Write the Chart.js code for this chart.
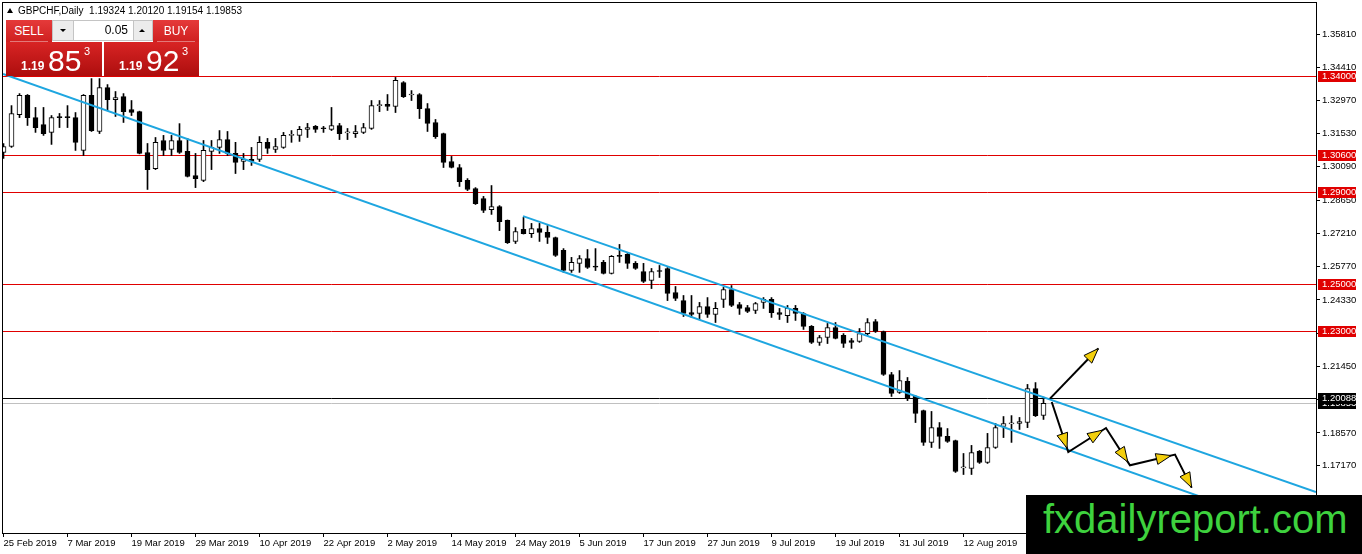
<!DOCTYPE html>
<html>
<head>
<meta charset="utf-8">
<script src="https://cdn.jsdelivr.net/npm/chart.js@4.4.1/dist/chart.umd.min.js"></script>
<style>
html, body { margin: 0; padding: 0; background: #fff; overflow: hidden; }
#wrap { position: relative; width: 1362px; height: 554px; font-family: "Liberation Sans", Arial, sans-serif; }
#myChart { position: absolute; left: 0; top: 0; }
.ov { position: absolute; }
#title { left: 6px; top: 5px; font-size: 10px; color: #000; white-space: nowrap; }
#title .tri { display: inline-block; width: 0; height: 0; border-left: 3px solid transparent; border-right: 3px solid transparent; border-bottom: 5px solid #000; margin: 0 5px 1px 1px; }
.btn { height: 22px; line-height: 22px; width: 46px; text-align: center; color: #fff; font-size: 12px; background: linear-gradient(#e53a3a, #cf2020); }
#sell { left: 6px; top: 20px; }
#buy { left: 153px; top: 20px; }
.sep { height: 1px; background: rgba(255,255,255,0.4); top: 41px; width: 38px; }
#lot { left: 52px; top: 20px; width: 99px; height: 19px; background: #ececec; border: 1px solid #c4c4c4; }
#lot .dn, #lot .up { position: absolute; top: 0; width: 20px; height: 19px; }
#lot .dn { left: 0; } #lot .up { right: 0; }
#lot .dn i, #lot .up i { position: absolute; left: 7px; top: 8px; width: 0; height: 0; border-left: 3px solid transparent; border-right: 3px solid transparent; }
#lot .dn i { border-top: 3px solid #000; }
#lot .up i { border-bottom: 3px solid #000; }
#lot .val { position: absolute; left: 20px; top: 0; width: 54px; height: 19px; line-height: 19px; background: #fff; border-left: 1px solid #c4c4c4; border-right: 1px solid #c4c4c4; text-align: right; padding-right: 5px; font-size: 12px; color: #000; }
.price { top: 42px; height: 34px; background: linear-gradient(#d82424, #ad0e0e); color: #fff; }
#sellp { left: 6px; width: 96px; }
#buyp { left: 104px; width: 95px; }
.price span { position: absolute; line-height: 1; white-space: nowrap; }
.price .s { font-size: 12px; font-weight: bold; top: 18px; left: 15px; }
.price .b { font-size: 30px; top: 4px; left: 42px; }
.price .p { font-size: 11px; top: 4px; left: 78px; }
#wm { left: 1026px; top: 495px; width: 336px; height: 59px; background: #000; }
#wm span { position: absolute; left: 17px; top: 4px; font-size: 40px; line-height: 1; color: #3ed23e; white-space: nowrap; }
</style>
</head>
<body>
<div id="wrap">
<canvas id="myChart" width="1362" height="554"></canvas>
<div class="ov" id="title"><span class="tri"></span>GBPCHF,Daily&nbsp; 1.19324 1.20120 1.19154 1.19853</div>
<div class="ov btn" id="sell">SELL</div>
<div class="ov sep" style="left:10px"></div>
<div class="ov" id="lot"><div class="dn"><i></i></div><div class="val">0.05</div><div class="up"><i></i></div></div>
<div class="ov btn" id="buy">BUY</div>
<div class="ov sep" style="left:157px"></div>
<div class="ov price" id="sellp"><span class="s">1.19</span><span class="b">85</span><span class="p">3</span></div>
<div class="ov price" id="buyp"><span class="s">1.19</span><span class="b">92</span><span class="p">3</span></div>
<div class="ov" id="wm"><span>fxdailyreport.com</span></div>
</div>
<script>
// GBPCHF daily candles, 25 Feb 2019 onwards (one per weekday)
var opens = [1.3071,1.3097,1.3235,1.3318,1.3222,1.3192,1.3158,1.3227,1.3227,1.3222,
  1.3080,1.3318,1.3162,1.3352,1.3300,1.3313,1.3257,1.3248,1.3071,1.3001,
  1.3123,1.3084,1.3123,1.3076,1.2971,1.2950,1.3076,1.3093,1.3127,1.3067,
  1.3032,1.3041,1.3041,1.3115,1.3084,1.3093,1.3145,1.3145,1.3171,1.3184,
  1.3176,1.3171,1.3188,1.3156,1.3153,1.3158,1.3175,1.3274,1.3279,1.3270,
  1.3374,1.3320,1.3322,1.3261,1.3201,1.3153,1.3032,1.3006,1.2950,1.2915,
  1.2872,1.2824,1.2837,1.2777,1.2686,1.2738,1.2720,1.2742,1.2725,1.2703,
  1.2647,1.2560,1.2591,1.2612,1.2578,1.2595,1.2547,1.2623,1.2630,1.2591,
  1.2556,1.2517,1.2560,1.2569,1.2465,1.2430,1.2378,1.2374,1.2404,1.2370,
  1.2435,1.2478,1.2413,1.2400,1.2387,1.2422,1.2435,1.2378,1.2365,1.2396,
  1.2374,1.2318,1.2249,1.2270,1.2313,1.2279,1.2257,1.2253,1.2287,1.2339,
  1.2296,1.2110,1.2032,1.2080,1.2015,1.1954,1.1816,1.1880,1.1842,1.1824,
  1.1706,1.1703,1.1777,1.1729,1.1794,1.1885,1.1896,1.1898,1.1902,1.2049,
  1.19324];
var highs = [1.3110,1.3274,1.3326,1.3322,1.3266,1.3266,1.3231,1.3240,1.3274,1.3244,
  1.3322,1.3391,1.3391,1.3365,1.3335,1.3326,1.3296,1.3250,1.3110,1.3136,
  1.3145,1.3145,1.3196,1.3132,1.3067,1.3123,1.3123,1.3166,1.3162,1.3115,
  1.3067,1.3093,1.3140,1.3132,1.3132,1.3158,1.3166,1.3184,1.3197,1.3188,
  1.3184,1.3266,1.3197,1.3175,1.3188,1.3197,1.3296,1.3296,1.3322,1.3396,
  1.3378,1.3339,1.3326,1.3283,1.3214,1.3155,1.3054,1.3019,1.2958,1.2919,
  1.2881,1.2928,1.2841,1.2779,1.2746,1.2790,1.2764,1.2764,1.2755,1.2705,
  1.2655,1.2617,1.2625,1.2651,1.2655,1.2604,1.2625,1.2673,1.2634,1.2599,
  1.2591,1.2569,1.2582,1.2573,1.2491,1.2452,1.2452,1.2422,1.2443,1.2422,
  1.2487,1.2495,1.2422,1.2409,1.2422,1.2443,1.2443,1.2396,1.2409,1.2409,
  1.2378,1.2322,1.2279,1.2331,1.2335,1.2287,1.2266,1.2309,1.2352,1.2348,
  1.2298,1.2119,1.2127,1.2097,1.2019,1.1956,1.1950,1.1902,1.1876,1.1826,
  1.1768,1.1803,1.1781,1.1855,1.1898,1.1928,1.1932,1.1924,1.2067,1.2075,
  1.20120];
var lows = [1.3045,1.3093,1.3222,1.3188,1.3158,1.3145,1.3106,1.3179,1.3179,1.3080,
  1.3058,1.3162,1.3153,1.3253,1.3227,1.3201,1.3231,1.3065,1.2911,1.2997,
  1.3058,1.3058,1.3067,1.2965,1.2919,1.2945,1.2997,1.3067,1.3058,1.2980,
  1.2997,1.3015,1.3032,1.3067,1.3071,1.3089,1.3115,1.3119,1.3136,1.3158,
  1.3158,1.3166,1.3127,1.3127,1.3136,1.3153,1.3171,1.3248,1.3253,1.3244,
  1.3309,1.3296,1.3218,1.3162,1.3132,1.3006,1.3004,1.2924,1.2906,1.2846,
  1.2811,1.2803,1.2733,1.2677,1.2677,1.2718,1.2703,1.2686,1.2677,1.2621,
  1.2552,1.2552,1.2552,1.2569,1.2560,1.2545,1.2545,1.2595,1.2569,1.2565,
  1.2508,1.2482,1.2530,1.2430,1.2430,1.2361,1.2357,1.2348,1.2357,1.2335,
  1.2400,1.2404,1.2370,1.2378,1.2374,1.2396,1.2357,1.2348,1.2335,1.2344,
  1.2305,1.2244,1.2236,1.2244,1.2264,1.2227,1.2223,1.2249,1.2279,1.2292,
  1.2106,1.2015,1.2028,1.1997,1.1902,1.1803,1.1794,1.1790,1.1816,1.1686,
  1.1677,1.1677,1.1725,1.1725,1.1790,1.1837,1.1816,1.1872,1.1880,1.1928,
  1.19154];
var closes = [1.3097,1.3240,1.3318,1.3222,1.3179,1.3153,1.3222,1.3222,1.3222,1.3115,
  1.3318,1.3166,1.3352,1.3300,1.3309,1.3248,1.3244,1.3067,1.2997,1.3115,
  1.3080,1.3123,1.3071,1.2967,1.2958,1.3080,1.3093,1.3127,1.3067,1.3028,
  1.3041,1.3032,1.3115,1.3089,1.3097,1.3145,1.3147,1.3171,1.3179,1.3171,
  1.3174,1.3188,1.3153,1.3158,1.3162,1.3179,1.3274,1.3276,1.3270,1.3383,
  1.3313,1.3322,1.3261,1.3197,1.3140,1.3028,1.3006,1.2945,1.2911,1.2850,
  1.2820,1.2837,1.2772,1.2681,1.2729,1.2720,1.2742,1.2725,1.2703,1.2625,
  1.2560,1.2595,1.2612,1.2573,1.2575,1.2547,1.2621,1.2621,1.2591,1.2569,
  1.2513,1.2556,1.2556,1.2461,1.2439,1.2374,1.2370,1.2404,1.2370,1.2396,
  1.2478,1.2409,1.2396,1.2383,1.2417,1.2435,1.2378,1.2370,1.2396,1.2374,
  1.2318,1.2249,1.2270,1.2313,1.2266,1.2244,1.2249,1.2287,1.2335,1.2296,
  1.2110,1.2028,1.2084,1.2006,1.1941,1.1816,1.1880,1.1842,1.1820,1.1690,
  1.1708,1.1772,1.1729,1.1794,1.1880,1.1898,1.1898,1.1906,1.2049,1.1932,
  1.19853];

// date labels every 8 bars
var dateLabels = ["25 Feb 2019","7 Mar 2019","19 Mar 2019","29 Mar 2019","10 Apr 2019",
  "22 Apr 2019","2 May 2019","14 May 2019","24 May 2019","5 Jun 2019","17 Jun 2019",
  "27 Jun 2019","9 Jul 2019","19 Jul 2019","31 Jul 2019","12 Aug 2019","22 Aug 2019"];
var priceTicks = [1.35810,1.34410,1.32970,1.31530,1.30090,1.28650,1.27210,1.25770,
  1.24330,1.22890,1.21450,1.20010,1.18570,1.17170,1.15730];

// horizontal levels
var redLevels = [1.34000,1.30600,1.29000,1.25000,1.23000];
var askLevel = 1.20088;
var bidLevel = 1.19853;

// channel lines [bar index, price]
var upperLine = [[64.94,1.27956],[164.06,1.16010]];
var lowerLine = [[-0.06,1.34115],[164.06,1.14045]];

// drawn arrows [bar index, price]
var arrowUp = [[130.81,1.20057],[136.85,1.22224]];
var arrowPath = [[131.03,1.19910],[133.10,1.17744],[137.81,1.18783],[140.81,1.17167],[146.44,1.17631],[148.52,1.16201]];

var bodies = opens.map(function (o, i) { return {x: i, y: [o, closes[i]]}; });
var wicks = lows.map(function (l, i) { return {x: i, y: [l, highs[i]]}; });
var bodyColors = opens.map(function (o, i) { return closes[i] > o ? '#ffffff' : '#000000'; });
var toXY = function (p) { return {x: p[0], y: p[1]}; };

function drawHead(ctx, x0, y0, x1, y1, inset) {
    var a = Math.atan2(y1 - y0, x1 - x0);
    var c = Math.cos(a), s = Math.sin(a);
    var tx = x1 - c * inset, ty = y1 - s * inset;
    var bx = tx - c * 15, by = ty - s * 15;
    ctx.beginPath();
    ctx.moveTo(tx, ty);
    ctx.lineTo(bx + s * 5.5, by - c * 5.5);
    ctx.lineTo(bx - s * 5.5, by + c * 5.5);
    ctx.closePath();
    ctx.fillStyle = '#f3cf0c';
    ctx.fill();
    ctx.lineWidth = 1;
    ctx.strokeStyle = '#000';
    ctx.stroke();
}

var mt4Plugin = {
    id: 'mt4',
    beforeDatasetsDraw: function (chart) {
        var ctx = chart.ctx, a = chart.chartArea, y = chart.scales.y;
        ctx.save();
        ctx.lineWidth = 1;
        redLevels.forEach(function (v) {
            var py = Math.round(y.getPixelForValue(v)) + 0.5;
            ctx.strokeStyle = '#e00000';
            ctx.beginPath(); ctx.moveTo(a.left, py); ctx.lineTo(a.right, py); ctx.stroke();
        });
        var pb = Math.round(y.getPixelForValue(bidLevel)) + 0.5;
        ctx.strokeStyle = '#c0c0c0';
        ctx.beginPath(); ctx.moveTo(a.left, pb); ctx.lineTo(a.right, pb); ctx.stroke();
        var pa = Math.round(y.getPixelForValue(askLevel)) + 0.5;
        ctx.strokeStyle = '#000';
        ctx.beginPath(); ctx.moveTo(a.left, pa); ctx.lineTo(a.right, pa); ctx.stroke();
        ctx.restore();
    },
    afterDatasetsDraw: function (chart) {
        var ctx = chart.ctx, a = chart.chartArea, xs = chart.scales.x, ys = chart.scales.y;
        var px = function (p) { return [xs.getPixelForValue(p[0]), ys.getPixelForValue(p[1])]; };
        ctx.save();
        ctx.beginPath(); ctx.rect(a.left, a.top, a.right - a.left, a.bottom - a.top); ctx.clip();
        ctx.lineWidth = 2;
        ctx.strokeStyle = '#000';
        var u0 = px(arrowUp[0]), u1 = px(arrowUp[1]);
        ctx.beginPath(); ctx.moveTo(u0[0], u0[1]); ctx.lineTo(u1[0], u1[1]); ctx.stroke();
        var pts = arrowPath.map(px);
        ctx.lineWidth = 2;
        ctx.beginPath();
        pts.forEach(function (p, i) { if (i === 0) ctx.moveTo(p[0], p[1]); else ctx.lineTo(p[0], p[1]); });
        ctx.stroke();
        drawHead(ctx, u0[0], u0[1], u1[0], u1[1], 0);
        for (var i = 1; i < pts.length; i++) {
            drawHead(ctx, pts[i - 1][0], pts[i - 1][1], pts[i][0], pts[i][1], i === pts.length - 1 ? 0 : 4);
        }
        ctx.restore();
    },
    afterDraw: function (chart) {
        var ctx = chart.ctx, a = chart.chartArea, y = chart.scales.y;
        ctx.save();
        ctx.strokeStyle = '#000';
        ctx.lineWidth = 1;
        ctx.strokeRect(a.left - 0.5, a.top - 0.5, a.right - a.left + 1, a.bottom - a.top + 1);
        ctx.font = '9.5px "Liberation Sans", Arial, sans-serif';
        ctx.textBaseline = 'middle';
        var tag = function (v, bg) {
            var py = Math.round(y.getPixelForValue(v));
            ctx.fillStyle = bg;
            ctx.fillRect(a.right + 2, py - 5, 38, 11);
            ctx.fillStyle = '#fff';
            ctx.fillText(v.toFixed(5), a.right + 6, py + 0.5);
        };
        tag(bidLevel, '#000');
        tag(askLevel, '#000');
        redLevels.forEach(function (v) { tag(v, '#e00000'); });
        ctx.restore();
    }
};

var ctx = document.getElementById('myChart').getContext('2d');
var chart = new Chart(ctx, {
    type: 'bar',
    data: {
        datasets: [{
            type: 'line',
            data: upperLine.map(toXY),
            borderColor: '#1ea6e0',
            borderWidth: 2,
            pointRadius: 0,
            order: 1
        }, {
            type: 'line',
            data: lowerLine.map(toXY),
            borderColor: '#1ea6e0',
            borderWidth: 2,
            pointRadius: 0,
            order: 1
        }, {
            data: bodies,
            backgroundColor: bodyColors,
            borderColor: '#000',
            borderWidth: 1,
            borderSkipped: false,
            barThickness: 5,
            minBarLength: 1,
            grouped: false,
            order: 2
        }, {
            data: wicks,
            backgroundColor: '#000',
            borderWidth: 0,
            barThickness: 1,
            grouped: false,
            order: 3
        }]
    },
    options: {
        responsive: false,
        animation: false,
        events: [],
        layout: { padding: { left: 3, top: 3, right: 0, bottom: 0 } },
        plugins: { legend: { display: false }, tooltip: { enabled: false } },
        scales: {
            x: {
                type: 'linear',
                offset: false,
                min: -0.0625,
                max: 164.0625,
                afterFit: function (s) { s.height = 21; s.paddingLeft = 0; s.paddingRight = 0; },
                afterBuildTicks: function (s) { s.ticks = dateLabels.map(function (d, i) { return {value: i * 8}; }); },
                grid: { drawOnChartArea: false, drawTicks: true, tickLength: 4, color: '#000', offset: false },
                border: { display: false },
                ticks: {
                    autoSkip: false, maxRotation: 0, align: 'start', padding: 1, color: '#000',
                    font: { family: '"Liberation Sans", Arial, sans-serif', size: 9.5 },
                    callback: function (v) { return dateLabels[Math.round(v / 8)]; }
                }
            },
            y: {
                type: 'linear',
                position: 'right',
                beginAtZero: false,
                min: 1.142381,
                max: 1.371818,
                afterFit: function (s) { s.width = 46; s.paddingTop = 0; s.paddingBottom = 0; },
                afterBuildTicks: function (s) { s.ticks = priceTicks.map(function (v) { return {value: v}; }); },
                grid: { drawOnChartArea: false, drawTicks: true, tickLength: 4, color: '#000' },
                border: { display: false },
                ticks: {
                    autoSkip: false, padding: 2, color: '#000',
                    font: { family: '"Liberation Sans", Arial, sans-serif', size: 9.5 },
                    callback: function (v) { return v.toFixed(5); }
                }
            }
        }
    },
    plugins: [mt4Plugin]
});
</script>
</body>
</html>
